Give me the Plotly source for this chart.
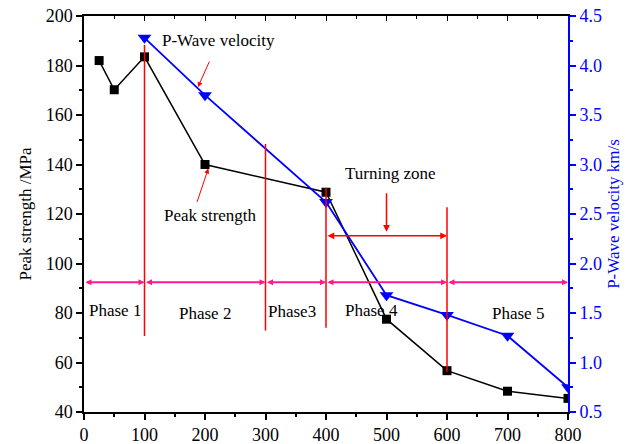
import plotly.graph_objects as go

# ---- data ----
temps_strength = [25, 50, 100, 200, 400, 500, 600, 700, 800]
peak_strength = [182, 170.2, 183.5, 140, 128.8, 77.5, 56.7, 48.4, 45.5]

temps_vp = [100, 200, 400, 500, 600, 700, 800]
p_wave = [4.28, 3.70, 2.62, 1.68, 1.48, 1.27, 0.75]

# red phase boundary lines: x, y-bottom, y-top (MPa scale)
boundary_x = [100, 300, 400, 600]
boundary_y0 = [70.7, 72.9, 74.0, 56.3]
boundary_y1 = [188.3, 148.3, 130.6, 122.7]

# pink phase arrows (segment start/end) at level
phase_edges = [0, 100, 300, 400, 600, 800]
phase_level = 92.4
phase_labels = ["Phase 1", "Phase 2", "Phase3", "Phase 4", "Phase 5"]
phase_label_x = [51, 200, 344, 475, 717]
phase_label_y = [80.9, 79.9, 80.8, 81.2, 80.0]

FONT = "Times New Roman"
BLUE = "#0000FF"
RED = "#FF0000"
PINK = "#FF1A8C"
TXT = 17

fig = go.Figure()

fig.add_trace(go.Scatter(
    x=temps_strength, y=peak_strength, mode="lines+markers",
    line=dict(color="black", width=1.5),
    marker=dict(symbol="square", size=9, color="black"),
    name="Peak strength", xaxis="x", yaxis="y"))

fig.add_trace(go.Scatter(
    x=temps_vp, y=p_wave, mode="lines+markers",
    line=dict(color=BLUE, width=1.8),
    marker=dict(symbol="triangle-down", size=12, color=BLUE),
    name="P-Wave velocity", xaxis="x", yaxis="y2"))

# invisible trace on mirrored top axis
fig.add_trace(go.Scatter(x=[0, 800], y=[40, 40], mode="none", showlegend=False,
                         hoverinfo="skip", xaxis="x2", yaxis="y"))

shapes = []
for bx, b0, b1 in zip(boundary_x, boundary_y0, boundary_y1):
    shapes.append(dict(type="line", xref="x", yref="y", x0=bx, x1=bx, y0=b0, y1=b1,
                       line=dict(color=RED, width=1.5)))

annotations = []
# pink double arrows per phase
for a, b in zip(phase_edges[:-1], phase_edges[1:]):
    annotations.append(dict(x=b, y=phase_level, ax=a, ay=phase_level, xref="x", yref="y",
                            axref="x", ayref="y", text="", showarrow=True,
                            arrowside="end+start", arrowhead=2, arrowsize=0.6,
                            arrowwidth=2, arrowcolor=PINK, standoff=0, startstandoff=0))
for t, lx, ly in zip(phase_labels, phase_label_x, phase_label_y):
    annotations.append(dict(x=lx, y=ly, xref="x", yref="y", text=t, showarrow=False,
                            font=dict(family=FONT, size=TXT, color="black")))

# turning zone
annotations.append(dict(x=505.8, y=136.4, xref="x", yref="y", text="Turning zone",
                        showarrow=False, font=dict(family=FONT, size=TXT, color="black")))
annotations.append(dict(x=500, y=112.8, ax=500, ay=129, xref="x", yref="y", axref="x",
                        ayref="y", text="", showarrow=True, arrowhead=2, arrowsize=0.9,
                        arrowwidth=1.5, arrowcolor=RED, standoff=0))
annotations.append(dict(x=600, y=111.2, ax=400, ay=111.2, xref="x", yref="y", axref="x",
                        ayref="y", text="", showarrow=True, arrowside="end+start",
                        arrowhead=2, arrowsize=0.9, arrowwidth=1.5, arrowcolor=RED,
                        standoff=0, startstandoff=0))

# series labels
annotations.append(dict(x=221.5, y=190.3, xref="x", yref="y", text="P-Wave velocity",
                        showarrow=False, font=dict(family=FONT, size=TXT, color="black")))
annotations.append(dict(x=188.4, y=171.3, ax=208.3, ay=182.2, xref="x", yref="y",
                        axref="x", ayref="y", text="", showarrow=True, arrowhead=2,
                        arrowsize=1, arrowwidth=1, arrowcolor=RED, standoff=0))
annotations.append(dict(x=208.3, y=119.2, xref="x", yref="y", text="Peak strength",
                        showarrow=False, font=dict(family=FONT, size=TXT, color="black")))
annotations.append(dict(x=205.5, y=138.4, ax=186.1, ay=124.3, xref="x", yref="y",
                        axref="x", ayref="y", text="", showarrow=True, arrowhead=2,
                        arrowsize=1, arrowwidth=1, arrowcolor=RED, standoff=0))

fig.update_layout(
    width=638, height=444,
    margin=dict(l=84, r=70, t=16, b=32, autoexpand=False),
    paper_bgcolor="white", plot_bgcolor="white",
    showlegend=False,
    font=dict(family=FONT, size=TXT, color="black"),
    xaxis=dict(range=[0, 800], tickvals=[0, 100, 200, 300, 400, 500, 600, 700, 800],
               ticks="outside", ticklen=6, tickwidth=1.5, tickcolor="black",
               showline=True, linecolor="black", linewidth=1.5, showgrid=False,
               zeroline=False, automargin=False,
               tickfont=dict(family=FONT, size=18, color="black"),
               minor=dict(dtick=50, ticks="outside", ticklen=3, tickcolor="black",
                          showgrid=False)),
    xaxis2=dict(range=[0, 800], overlaying="x", side="top", anchor="y",
                tickvals=[0, 100, 200, 300, 400, 500, 600, 700, 800],
                ticks="inside", ticklen=5, tickwidth=1.2, tickcolor="black",
                showticklabels=False, showline=True, linecolor="black", linewidth=1.5,
                showgrid=False, zeroline=False, automargin=False,
                minor=dict(dtick=50, ticks="inside", ticklen=3, tickcolor="black")),
    yaxis=dict(range=[40, 200], tickvals=[40, 60, 80, 100, 120, 140, 160, 180, 200],
               ticks="outside", ticklen=6, tickwidth=1.5, tickcolor="black",
               showline=True, linecolor="black", linewidth=1.5, showgrid=False,
               zeroline=False, automargin=False,
               tickfont=dict(family=FONT, size=18, color="black"),
               title=dict(text="Peak strength /MPa", standoff=10,
                          font=dict(family=FONT, size=TXT, color="black")),
               minor=dict(dtick=10, ticks="outside", ticklen=3, tickcolor="black")),
    yaxis2=dict(range=[0.5, 4.5], overlaying="y", side="right", anchor="x",
                tickvals=[0.5, 1.0, 1.5, 2.0, 2.5, 3.0, 3.5, 4.0, 4.5],
                ticktext=["0.5", "1.0", "1.5", "2.0", "2.5", "3.0", "3.5", "4.0", "4.5"],
                ticks="outside", ticklen=6, tickwidth=1.5, tickcolor=BLUE,
                showline=True, linecolor=BLUE, linewidth=2, showgrid=False,
                zeroline=False, automargin=False,
                tickfont=dict(family=FONT, size=18, color=BLUE),
                title=dict(text="P-Wave velocity km/s", standoff=6,
                           font=dict(family=FONT, size=TXT, color=BLUE)),
                minor=dict(dtick=0.25, ticks="outside", ticklen=3, tickcolor=BLUE)),
    shapes=shapes,
    annotations=annotations,
)

fig.write_html("out.html")
